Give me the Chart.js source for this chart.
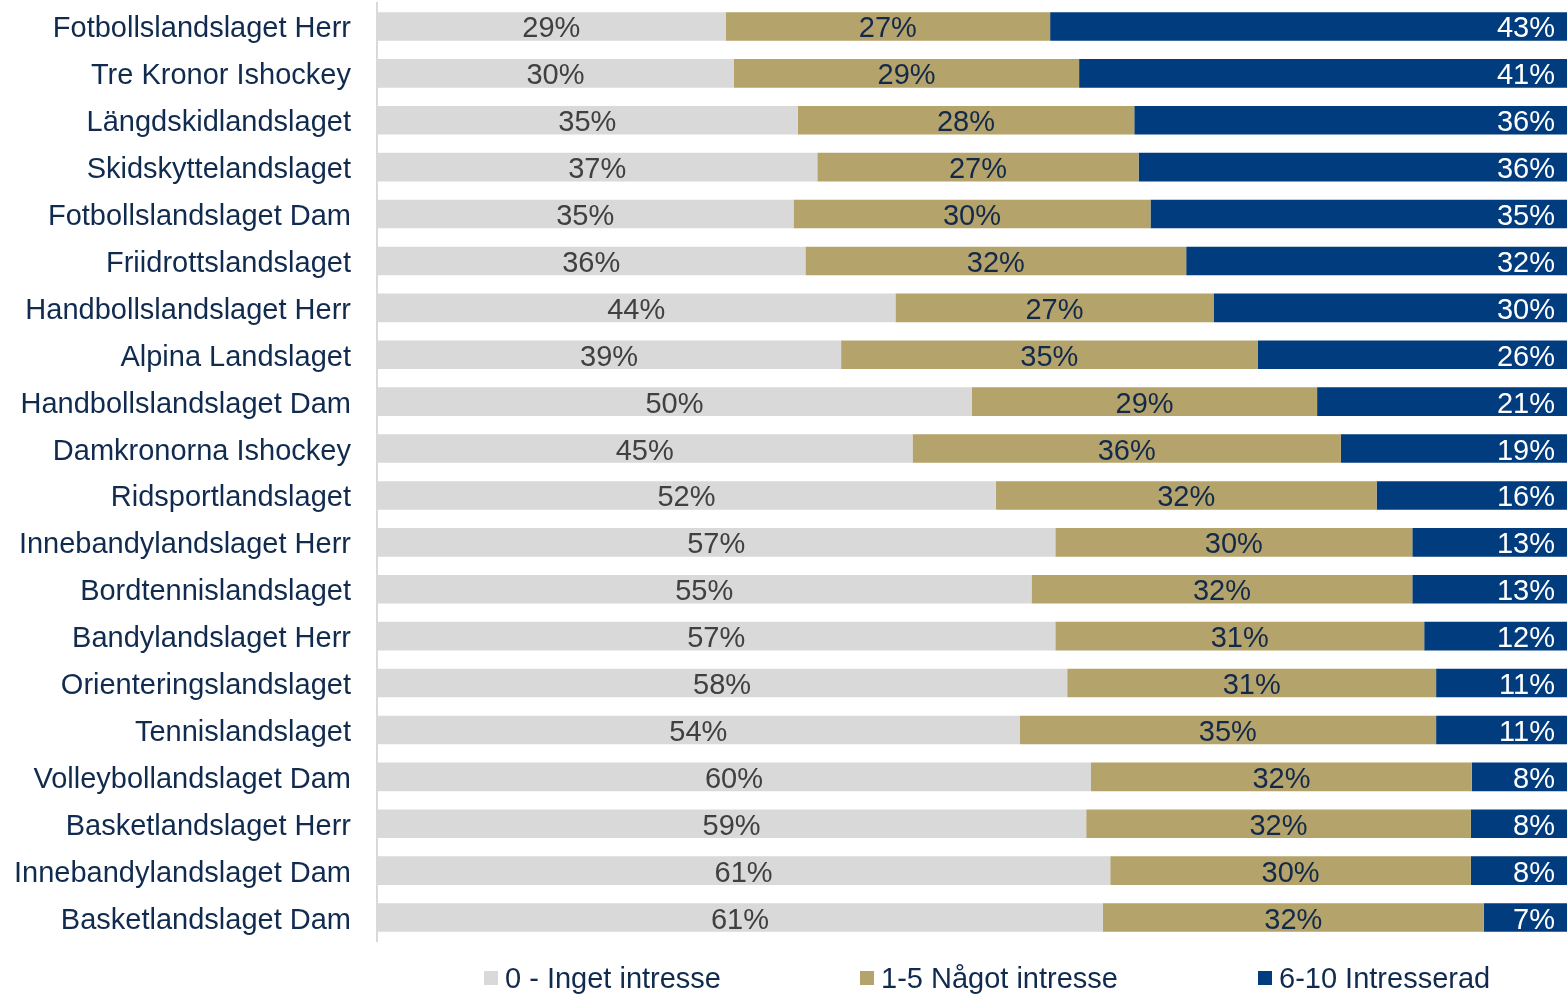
<!DOCTYPE html>
<html lang="sv">
<head>
    <meta charset="UTF-8">
    <title>Intresse för landslagen</title>
    <script src="https://cdn.jsdelivr.net/npm/chart.js@4.4.4/dist/chart.umd.min.js"></script>
</head>
<body style="margin: 0; background: #fff; overflow: hidden;">
    <div style="position: relative; width: 1567px; height: 995px;">
        <canvas id="chart" width="1567" height="995"></canvas>
        <div id="legend" style="position: absolute; top: 962px; left: 0; width: 1567px; height: 32px; font-family: 'Liberation Sans', Arial, sans-serif; font-size: 29px; color: #112b4f;"></div>
    </div>

    <script>
        // Lag (kategorier)
        const categories = [
            'Fotbollslandslaget Herr', 'Tre Kronor Ishockey', 'Längdskidlandslaget', 'Skidskyttelandslaget',
            'Fotbollslandslaget Dam', 'Friidrottslandslaget', 'Handbollslandslaget Herr', 'Alpina Landslaget',
            'Handbollslandslaget Dam', 'Damkronorna Ishockey', 'Ridsportlandslaget', 'Innebandylandslaget Herr',
            'Bordtennislandslaget', 'Bandylandslaget Herr', 'Orienteringslandslaget', 'Tennislandslaget',
            'Volleybollandslaget Dam', 'Basketlandslaget Herr', 'Innebandylandslaget Dam', 'Basketlandslaget Dam'
        ];

        // Andelar i procent, som de står i diagrammet
        const inget = [29, 30, 35, 37, 35, 36, 44, 39, 50, 45, 52, 57, 55, 57, 58, 54, 60, 59, 61, 61];
        const nagot = [27, 29, 28, 27, 30, 32, 27, 35, 29, 36, 32, 30, 32, 31, 31, 35, 32, 32, 30, 32];
        const intresserad = [43, 41, 36, 36, 35, 32, 30, 26, 21, 19, 16, 13, 13, 12, 11, 11, 8, 8, 8, 7];

        const seriesNames = ['0 - Inget intresse', '1-5 Något intresse', '6-10 Intresserad'];
        const seriesColors = ['#d9d9d9', '#b4a36a', '#003c7e'];
        const labelColors = ['#404040', '#13294b', '#ffffff'];
        const rawSeries = [inget, nagot, intresserad];

        // 100 % staplat: varje rad skalas till sin egen summa
        function share(arr) {
            return arr.map((v, i) => v / (inget[i] + nagot[i] + intresserad[i]) * 100);
        }

        const FONT = "'Liberation Sans', Arial, sans-serif";

        // Etiketter i staplarna
        const barLabels = {
            id: 'barLabels',
            afterDatasetsDraw(chart) {
                const ctx = chart.ctx;
                ctx.save();
                ctx.font = '29px ' + FONT;
                ctx.textBaseline = 'middle';
                rawSeries.forEach((arr, i) => {
                    const meta = chart.getDatasetMeta(i);
                    ctx.fillStyle = labelColors[i];
                    meta.data.forEach((bar, j) => {
                        const text = arr[j] + '%';
                        if (i < 2) {
                            ctx.textAlign = 'center';
                            ctx.fillText(text, (bar.x + bar.base) / 2, bar.y + 3);
                        } else {
                            ctx.textAlign = 'right';
                            ctx.fillText(text, bar.x - 12, bar.y + 3);
                        }
                    });
                });
                ctx.restore();
            }
        };

        new Chart(document.getElementById('chart'), {
            type: 'bar',
            data: {
                labels: categories,
                datasets: rawSeries.map((arr, i) => ({
                    label: seriesNames[i],
                    data: share(arr),
                    backgroundColor: seriesColors[i],
                    borderWidth: 0,
                    barPercentage: 0.61,
                    categoryPercentage: 1
                }))
            },
            options: {
                indexAxis: 'y',
                responsive: false,
                animation: false,
                layout: { padding: { top: 3, bottom: 54, left: 0, right: 0 } },
                plugins: { legend: { display: false }, tooltip: { enabled: false } },
                scales: {
                    x: { stacked: true, min: 0, max: 100, display: false },
                    y: {
                        stacked: true,
                        grid: { display: false, drawTicks: false },
                        border: { display: true, color: '#d9d9d9', width: 2 },
                        ticks: { autoSkip: false, padding: 26, labelOffset: 3, color: '#112b4f', font: { family: FONT, size: 29 } },
                        afterFit(scale) {
                            scale.width = 377;
                            scale.paddingTop = 0;
                            scale.paddingBottom = 0;
                        }
                    }
                }
            },
            plugins: [barLabels]
        });

        // Förklaring under diagrammet
        const legendLeft = [484, 860, 1258];
        const legend = document.getElementById('legend');
        seriesNames.forEach((name, i) => {
            const item = document.createElement('div');
            item.style.cssText = 'position:absolute; top:0; left:' + legendLeft[i] + 'px; display:flex; align-items:center; height:32px; white-space:nowrap;';
            item.innerHTML = '<span style="display:inline-block; width:14px; height:14px; margin-right:7px; background:' + seriesColors[i] + ';"></span>' + name;
            legend.appendChild(item);
        });
    </script>
</body>
</html>
